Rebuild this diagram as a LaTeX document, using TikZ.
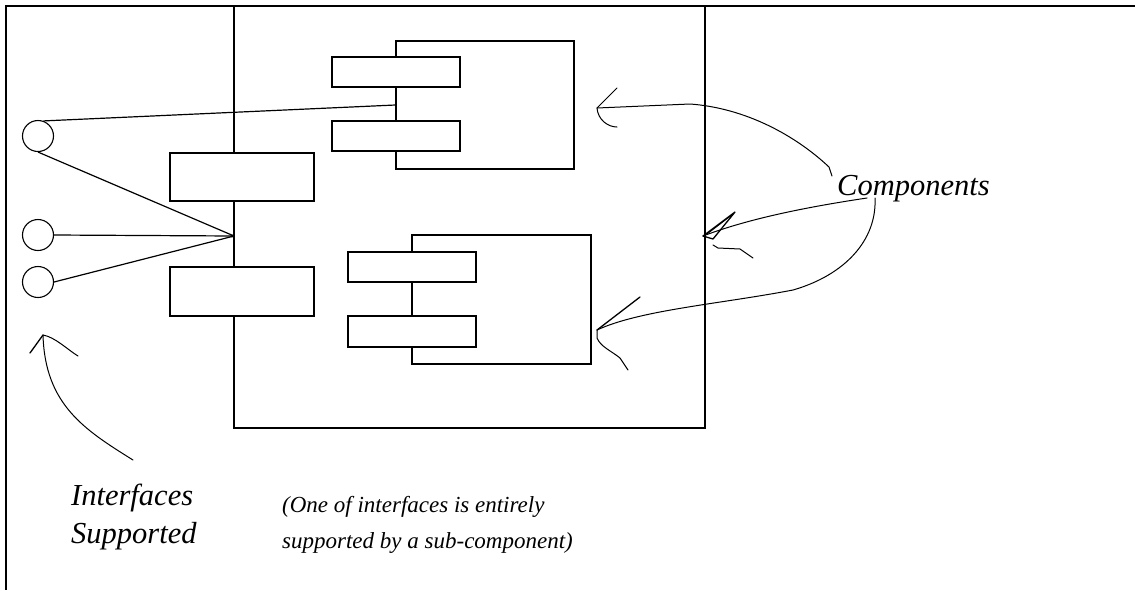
\documentclass[tikz,border=0pt]{standalone}
\usepackage{fontspec}
\setmainfont{Liberation Serif}
\begin{document}
\begin{tikzpicture}[x=1pt,y=-1pt,
  wire/.style={line width=1.2pt,black},
  frame/.style={line width=2.2pt,black},
  hand/.style={line width=1pt,black,line cap=round,line join=round},
  cbox/.style={draw,line width=1.2pt,fill=white,inner sep=0pt,rectangle},
  iface/.style={draw,line width=1.1pt,fill=white,circle,inner sep=0pt,minimum size=31pt},
  bigtxt/.style={font=\fontsize{30.5}{36}\selectfont\itshape,inner sep=0pt,anchor=base west},
  smalltxt/.style={font=\fontsize{23}{27}\selectfont\itshape,inner sep=0pt,anchor=base west}]
\useasboundingbox (0,0) rectangle (1135,590);
\fill[white] (0,0) rectangle (1135,590);

% outer frame lines
\coordinate (ftr) at (1135,6);
\coordinate (ftl) at (6,6);
\coordinate (fbl) at (6,590);
\draw[frame] (ftr) -- (ftl) -- (fbl);

% main component
\node[cbox,fill=none,minimum width=471pt,minimum height=422pt] (main) at (469.5,217) {};
\coordinate (j) at (234,236);

% upper sub-component
\node[cbox,minimum width=178pt,minimum height=128pt] (uc) at (485,105) {};
\node[cbox,minimum width=128pt,minimum height=30pt] (u1) at (396,72) {};
\node[cbox,minimum width=128pt,minimum height=30pt] (u2) at (396,136) {};

% lower sub-component
\node[cbox,minimum width=179pt,minimum height=129pt] (lc) at (501.5,299.5) {};
\node[cbox,minimum width=128pt,minimum height=30pt] (l1) at (412,267) {};
\node[cbox,minimum width=128pt,minimum height=31pt] (l2) at (412,331.5) {};

% main component tabs
\node[cbox,minimum width=144pt,minimum height=48pt] (b1) at (242,177) {};
\node[cbox,minimum width=144pt,minimum height=49pt] (b2) at (242,291.5) {};

% interfaces
\node[iface] (c1) at (38,136) {};
\node[iface] (c2) at (38,235) {};
\node[iface] (c3) at (38,282) {};

\draw[wire] (c1.70) -- (uc.west);
\draw[wire] (c1.south) -- (j);
\draw[wire] (c2.east) -- (j);
\draw[wire] (c3.east) -- (j);
\fill (j) ++(-2,0) circle (1.6pt);

% texts
\node[bigtxt] (comp) at (837,195) {Components};
\node[bigtxt] (if1) at (71,505) {Interfaces};
\node[bigtxt] (if2) at (71,543) {Supported};
\node[smalltxt] (n1) at (282,512) {(One of interfaces is entirely};
\node[smalltxt] (n2) at (282,548) {supported by a sub-component)};

% hand drawn arrows
\coordinate (a1s) at (832,176);
\coordinate (a1t) at (597,108);
\draw[hand] (a1s) -- ++(-3,-9) .. controls (795,135) and (745,108) .. (690,104) -- (a1t);
\draw[hand] (a1t) -- ++(20,-20);
\draw[hand] (a1t) .. controls +(1,12) and +(-9,0) .. ++(20,19);

\coordinate (a2s) at (867,198);
\coordinate (a2t) at (703,236);
\draw[hand] (a2s) .. controls (800,208) and (745,220) .. (a2t);
\draw[hand,line width=1.3pt] (a2t) -- ++(32,-24) -- ++(-22,27) -- cycle;
\draw[hand] (a2t) ++(4,-2) -- ++(26,-20);
\draw[hand] (a2t) ++(10,9) -- ++(5,3) -- ++(22,1) -- ++(13,9);

\coordinate (a3s) at (875,198);
\coordinate (a3t) at (597,330);
\draw[hand] (a3s) .. controls (877,240) and (845,275) .. (793,290) .. controls (720,304) and (640,310) .. (a3t);
\draw[hand,line width=1.3pt] (a3t) -- ++(43,-33);
\draw[hand] (a3t) -- ++(0,8) .. controls +(4,9) and +(-10,-8) .. ++(23,20) -- ++(8,12);

\coordinate (a4s) at (133,460);
\coordinate (a4t) at (43,335);
\draw[hand] (a4s) .. controls (85,430) and (45,405) .. (a4t);
\draw[hand,line width=1.3pt] (a4t) -- ++(-13,18);
\draw[hand] (a4t) .. controls +(12,2) and +(-10,-6) .. ++(35,21);
\end{tikzpicture}
\end{document}
